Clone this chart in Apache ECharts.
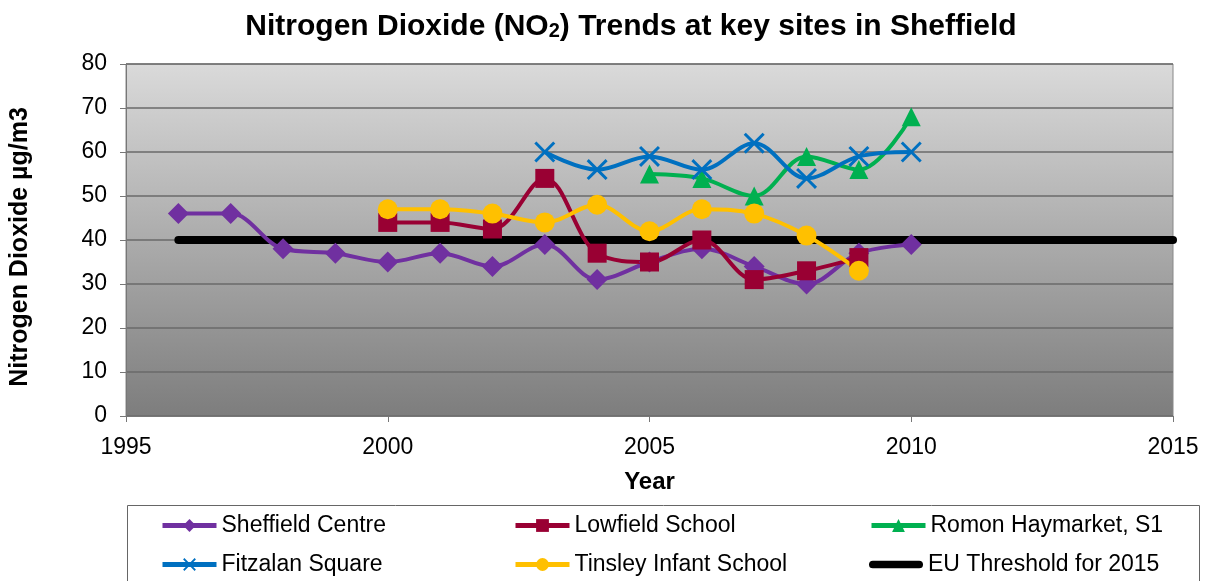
<!DOCTYPE html>
<html>
<head>
<meta charset="utf-8">
<script src="https://cdn.jsdelivr.net/npm/echarts@6/dist/echarts.min.js"></script>
<style>
  html, body { margin: 0; padding: 0; background: #fff; }
  #chart { width: 1208px; height: 581px; }
</style>
</head>
<body>
<div id="chart"></div>
<script>
// NO2 annual means
var centreYears = [1996, 1997, 1998, 1999, 2000, 2001, 2002, 2003, 2004, 2005, 2006, 2007, 2008, 2009, 2010];
var centreVals  = [46, 46, 38, 37, 35, 37, 34, 39, 31, 35, 38, 34, 30, 37, 39];

var lowfieldYears = [2000, 2001, 2002, 2003, 2004, 2005, 2006, 2007, 2008, 2009];
var lowfieldVals  = [44, 44, 42.5, 54, 37, 35, 40, 31, 33, 36];

var romonYears = [2005, 2006, 2007, 2008, 2009, 2010];
var romonVals  = [55, 54, 50, 59, 56, 68];

var fitzalanYears = [2003, 2004, 2005, 2006, 2007, 2008, 2009, 2010];
var fitzalanVals  = [60, 56, 59, 56, 62, 54, 59, 60];

var tinsleyYears = [2000, 2001, 2002, 2003, 2004, 2005, 2006, 2007, 2008, 2009];
var tinsleyVals  = [47, 47, 46, 44, 48, 42, 47, 46, 41, 33];

var euYears = [1996, 2015];
var euVals  = [40, 40];

var names = ['Sheffield Centre', 'Lowfield School', 'Romon Haymarket, S1',
             'Fitzalan Square', 'Tinsley Infant School', 'EU Threshold for 2015'];

function pairs(xs, ys) {
    return xs.map(function (x, i) { return [x, ys[i]]; });
}

var crossPath = 'path://M0,2 L2,0 L10,8 L18,0 L20,2 L12,10 L20,18 L18,20 L10,12 L2,20 L0,18 L8,10 Z';
var barPath = 'path://M4,0 L52,0 A4,4 0 0 1 52,8 L4,8 A4,4 0 0 1 4,0 Z';
var font = 'Liberation Sans, Arial, sans-serif';

function siteSeries(name, color, symbol, size, xs, ys) {
    return {
        name: name,
        type: 'line',
        smooth: 0.35,
        data: pairs(xs, ys),
        symbol: symbol,
        symbolSize: size,
        itemStyle: { color: color },
        lineStyle: { color: color, width: 4 },
        z: 3
    };
}

// one legend block per entry so the three columns line up
var legendCols = [160, 513, 869];
var legendRows = [514, 553];
var legends = names.map(function (n, i) {
    var item = (i === 5) ? { name: n, icon: barPath } : n;
    return {
        data: [item],
        left: legendCols[i % 3],
        top: legendRows[Math.floor(i / 3)],
        itemWidth: 54,
        itemHeight: (i === 5) ? 8 : 16,
        itemGap: 4,
        padding: 0,
        lineStyle: { width: 5 },
        textStyle: { fontFamily: font, fontSize: 23, color: '#000' }
    };
});

var myChart = echarts.init(document.getElementById('chart'));

option = {
    backgroundColor: '#fff',
    animation: false,
    title: {
        text: 'Nitrogen Dioxide (NO{sub|2}) Trends at key sites in Sheffield',
        left: 626,
        textAlign: 'center',
        top: 7,
        textStyle: {
            fontFamily: font,
            fontSize: 30,
            fontWeight: 'bold',
            color: '#000',
            rich: {
                sub: { fontFamily: font, fontSize: 20, fontWeight: 'bold', color: '#000', padding: [9, 0, 0, 0] }
            }
        }
    },
    legend: legends,
    graphic: [{
        type: 'rect',
        shape: { x: 127.5, y: 505.5, width: 1072, height: 80 },
        style: { fill: 'none', stroke: '#666', lineWidth: 1 },
        silent: true
    }],
    grid: {
        left: 126,
        right: 35,
        top: 64,
        bottom: 165,
        show: true,
        borderColor: '#888',
        borderWidth: 1,
        backgroundColor: new echarts.graphic.LinearGradient(0, 0, 0, 1, [
            { offset: 0, color: '#dadada' },
            { offset: 1, color: '#7d7d7d' }
        ])
    },
    xAxis: {
        type: 'value',
        min: 1995,
        max: 2015,
        interval: 5,
        name: 'Year',
        nameLocation: 'middle',
        nameGap: 54,
        nameTextStyle: { fontFamily: font, fontSize: 24, fontWeight: 'bold', color: '#000' },
        axisLine: { lineStyle: { color: '#777', width: 1 } },
        axisTick: { show: true, length: 6, lineStyle: { color: '#777' } },
        axisLabel: {
            fontFamily: font, fontSize: 23, color: '#000', margin: 20,
            formatter: function (v) { return String(v); }
        },
        splitLine: { show: false }
    },
    yAxis: {
        type: 'value',
        min: 0,
        max: 80,
        interval: 10,
        name: 'Nitrogen Dioxide µg/m3',
        nameLocation: 'middle',
        nameGap: 93,
        nameTextStyle: { fontFamily: font, fontSize: 25, fontWeight: 'bold', color: '#000', padding: [0, 14, 0, 0] },
        axisLine: { show: true, lineStyle: { color: '#777', width: 1 } },
        axisTick: { show: true, length: 6, lineStyle: { color: '#777' } },
        axisLabel: { fontFamily: font, fontSize: 23, color: '#000', margin: 19 },
        splitLine: { show: true, lineStyle: { color: '#6a6a6a', width: 1.5 } }
    },
    series: [
        siteSeries(names[0], '#7030a0', 'diamond', 21, centreYears, centreVals),
        siteSeries(names[1], '#990033', 'rect', 19, lowfieldYears, lowfieldVals),
        siteSeries(names[2], '#00b050', 'triangle', 19, romonYears, romonVals),
        siteSeries(names[3], '#0070c0', crossPath, 21, fitzalanYears, fitzalanVals),
        siteSeries(names[4], '#ffc000', 'circle', 20, tinsleyYears, tinsleyVals),
        {
            name: names[5],
            type: 'line',
            data: pairs(euYears, euVals),
            symbol: 'none',
            itemStyle: { color: '#000' },
            lineStyle: { color: '#000', width: 8, cap: 'round' },
            z: 2
        }
    ]
};

myChart.setOption(option);
</script>
</body>
</html>
